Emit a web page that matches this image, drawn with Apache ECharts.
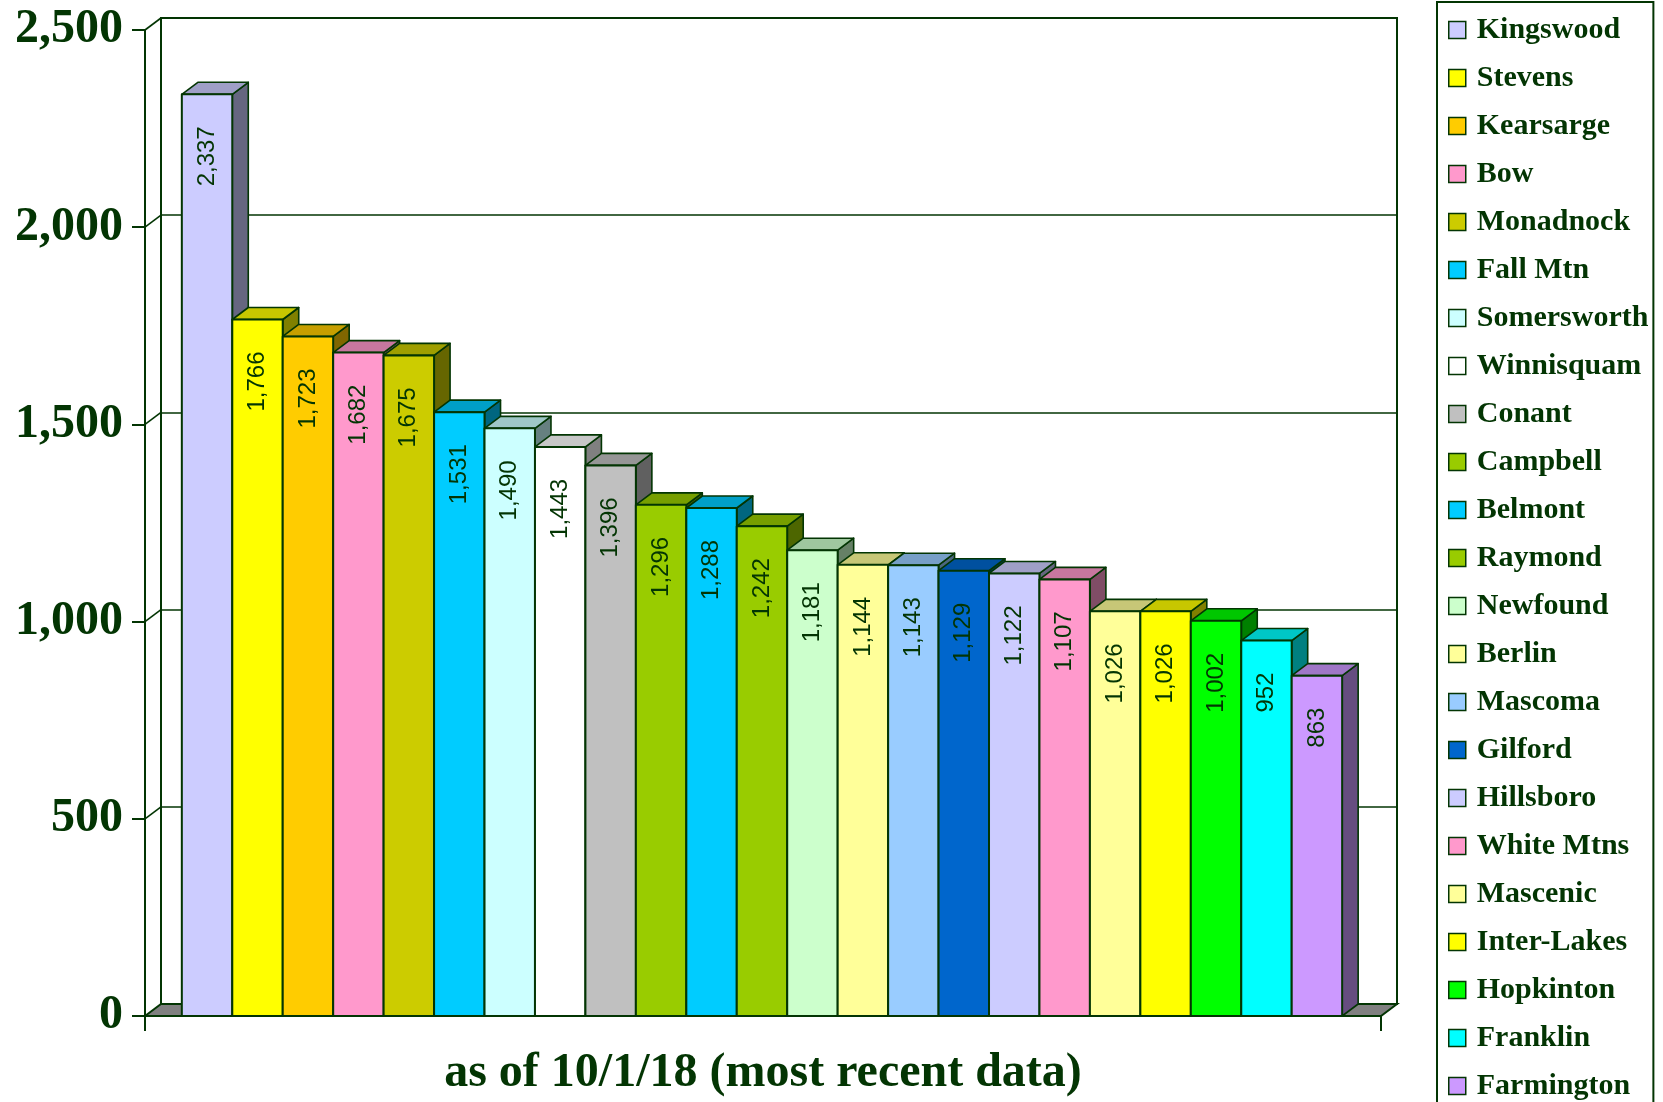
<!DOCTYPE html>
<html>
<head>
<meta charset="utf-8">
<script src="https://cdn.jsdelivr.net/npm/echarts@6/dist/echarts.min.js"></script>
<style>
html,body{margin:0;padding:0;background:#fff;}
#chart{width:1663px;height:1102px;}
</style>
</head>
<body>
<div id="chart"></div>
<script>
const categories = ['Kingswood','Stevens','Kearsarge','Bow','Monadnock','Fall Mtn','Somersworth','Winnisquam','Conant','Campbell','Belmont','Raymond','Newfound','Berlin','Mascoma','Gilford','Hillsboro','White Mtns','Mascenic','Inter-Lakes','Hopkinton','Franklin','Farmington'];
const values = [2337,1766,1723,1682,1675,1531,1490,1443,1396,1296,1288,1242,1181,1144,1143,1129,1122,1107,1026,1026,1002,952,863];
const colors = ['#CCCCFF','#FFFF00','#FFCC00','#FF99CC','#CCCC00','#00CCFF','#CCFFFF','#FFFFFF','#C0C0C0','#99CC00','#00CCFF','#99CC00','#CCFFCC','#FFFF99','#99CCFF','#0066CC','#CCCCFF','#FF99CC','#FFFF99','#FFFF00','#00FF00','#00FFFF','#CC99FF'];
const yMin = 0, yMax = 2500, yStep = 500;
const xTitle = 'as of 10/1/18 (most recent data)';

const INK = '#033503';
const DX = 16, DY = -12;
const X_MIN = -1.23, X_MAX = 23.27;

function shade(hex, f){
  const n = parseInt(hex.slice(1),16);
  const r = Math.round(((n>>16)&255)*f), g = Math.round(((n>>8)&255)*f), b = Math.round((n&255)*f);
  return 'rgb(' + r + ',' + g + ',' + b + ')';
}
function fmt(v){ return Number(v).toLocaleString('en-US'); }

function barRender(color){
  return function(params, api){
    const i = api.value(0), v = api.value(1);
    const tl = api.coord([i - 0.5, v]);
    const br = api.coord([i + 0.5, 0]);
    const x0 = tl[0], x1 = br[0], yt = tl[1], yb = br[1];
    const stroke = {stroke: INK, lineWidth: 1.6, lineJoin: 'round'};
    return {
      type: 'group',
      children: [
        {type:'polygon', shape:{points:[[x1,yt],[x1+DX,yt+DY],[x1+DX,yb+DY],[x1,yb]]}, style:Object.assign({fill: shade(color,0.5)}, stroke)},
        {type:'polygon', shape:{points:[[x0,yt],[x0+DX,yt+DY],[x1+DX,yt+DY],[x1,yt]]}, style:Object.assign({fill: shade(color,0.78)}, stroke)},
        {type:'rect', shape:{x:x0, y:yt, width:x1-x0, height:yb-yt}, style:Object.assign({fill: color}, stroke, {lineWidth: 2})},
        {type:'text', x:(x0+x1)/2, y:yt+32, rotation:Math.PI/2,
          style:{text: fmt(v), align:'right', verticalAlign:'middle', fill: INK, font:'24px "Liberation Sans", Arial, sans-serif'}}
      ]
    };
  };
}

function wallRender(params, api){
  const children = [];
  const fl = api.coord([X_MIN, 0]);
  const fr = api.coord([X_MAX, 0]);
  children.push({type:'polygon', shape:{points:[[fl[0],fl[1]],[fl[0]+DX,fl[1]+DY],[fr[0]+DX,fr[1]+DY],[fr[0],fr[1]]]},
    style:{fill:'#808080', stroke: INK, lineWidth: 2}});
  for (let t = yMin + yStep; t <= yMax; t += yStep){
    const p = api.coord([X_MIN, t]);
    children.push({type:'line', shape:{x1:p[0], y1:p[1], x2:p[0]+DX, y2:p[1]+DY}, style:{stroke: INK, lineWidth: 1.6}});
  }
  return {type:'group', children};
}

const series = [{
  type:'custom', name:'__walls', xAxisIndex:0, yAxisIndex:0, z:1, silent:true,
  data:[[0,0]], renderItem: wallRender, encode:{x:0, y:1}
}];
categories.forEach((name, i) => {
  series.push({
    type:'custom', name: name, xAxisIndex:0, yAxisIndex:0, z:2,
    itemStyle:{color: colors[i], borderColor: INK, borderWidth: 1.5},
    data:[[i, values[i]]], encode:{x:0, y:1},
    renderItem: barRender(colors[i])
  });
});

const chart = echarts.init(document.getElementById('chart'), null, {renderer:'canvas'});
chart.setOption({
  animation:false,
  backgroundColor:'#ffffff',
  grid:[
    {left:145, top:30, width:1236, height:986, show:false, containLabel:false, outerBoundsMode:'none'},
    {left:161, top:18, width:1236, height:986, show:true, borderColor: INK, borderWidth:2, backgroundColor:'#ffffff', containLabel:false, outerBoundsMode:'none'}
  ],
  xAxis:[
    {type:'value', gridIndex:0, min:X_MIN, max:X_MAX,
      axisLine:{show:true, onZero:false, lineStyle:{color:INK, width:2}},
      axisTick:{show:true, customValues:[X_MIN, X_MAX], length:15, lineStyle:{color:INK, width:2}},
      axisLabel:{show:false}, splitLine:{show:false},
      name: xTitle, nameLocation:'middle', nameGap:34,
      nameTextStyle:{color:INK, fontFamily:'"Liberation Serif", "Times New Roman", serif', fontWeight:'bold', fontSize:48}},
    {type:'value', gridIndex:1, min:X_MIN, max:X_MAX, show:false}
  ],
  yAxis:[
    {type:'value', gridIndex:0, min:yMin, max:yMax, interval:yStep, position:'left',
      axisLine:{show:true, onZero:false, lineStyle:{color:INK, width:2}},
      axisTick:{show:true, length:13, lineStyle:{color:INK, width:2}},
      axisLabel:{show:true, margin:22, formatter: v => fmt(v), color:INK,
        fontFamily:'"Liberation Serif", "Times New Roman", serif', fontWeight:'bold', fontSize:48},
      splitLine:{show:false}},
    {type:'value', gridIndex:1, min:yMin, max:yMax, interval:yStep,
      axisLine:{show:false, onZero:false}, axisTick:{show:false}, axisLabel:{show:false},
      splitLine:{show:true, lineStyle:{color:INK, width:1.6}}}
  ],
  legend:{
    orient:'vertical', left:1437, top:2, height:1200,
    data: categories,
    selectedMode:false,
    backgroundColor:'#ffffff', borderColor:INK, borderWidth:2,
    padding:[13, 5, 10, 11],
    itemWidth:17, itemHeight:17, itemGap:18,
    icon:'rect',
    itemStyle:{borderColor:INK, borderWidth:1.5},
    textStyle:{color:INK, fontFamily:'"Liberation Serif", "Times New Roman", serif', fontWeight:'bold', fontSize:30, lineHeight:30, padding:[0,0,0,6]}
  },
  series: series
});
</script>
</body>
</html>
